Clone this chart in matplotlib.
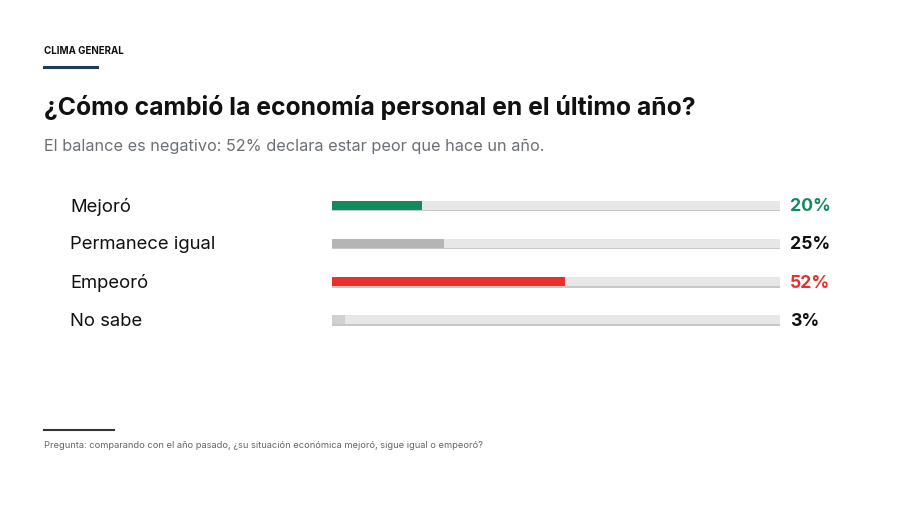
import matplotlib
matplotlib.use("Agg")
import matplotlib.pyplot as plt

plt.rcParams["font.family"] = ["Inter", "DejaVu Sans"]

# Data
categories = ["Mejoró", "Permanece igual", "Empeoró", "No sabe"]
values = [20, 25, 52, 3]
bar_colors = ["#128a5c", "#b5b5b5", "#ea2f2c", "#d0d0d0"]
value_colors = ["#128a5c", "#111111", "#ea2f2c", "#111111"]

W, H = 900, 505
fig = plt.figure(figsize=(9, 5.05), dpi=100)
fig.patch.set_facecolor("white")


def fx(px):
    return px / W


def fy(py):
    return 1 - py / H


# header
fig.text(fx(44), fy(51), "CLIMA GENERAL", fontsize=7, fontweight="bold",
         color="#111111", va="center")
fig.add_artist(plt.Line2D([fx(44), fx(97)], [fy(67), fy(67)], color="#1f3b57", lw=2.2))
fig.text(fx(44), fy(107), "¿Cómo cambió la economía personal en el último año?",
         fontsize=17.8, fontweight="bold", color="#111111", va="center")
fig.text(fx(44), fy(146), "El balance es negativo: 52% declara estar peor que hace un año.",
         fontsize=11.7, color="#6b6f76", va="center")

# bars
row_h = 38.3
top = 205 - row_h / 2
ax = fig.add_axes([fx(332), fy(top + 4 * row_h), fx(448), 4 * row_h / H])
ax.set_xlim(0, 100)
ax.set_ylim(3.5, -0.5)
ax.axis("off")

ypos = list(range(len(categories)))
bh = 9 / row_h
# shadow under track
ax.barh([y + 0.04 for y in ypos], [100] * len(ypos), height=bh, color="#c8c8c8", zorder=1)
ax.barh(ypos, [100] * len(ypos), height=bh, color="#e7e7e7", zorder=2)
ax.barh(ypos, values, height=bh, color=bar_colors, zorder=3)

tr = ax.get_yaxis_transform()
for y, cat, v, c in zip(ypos, categories, values, value_colors):
    ax.text(-0.585, y + 0.04, cat, transform=tr, fontsize=13.3, color="#111111",
            va="center", ha="left")
    ax.text(1.022, y + 0.04, f"{v}%", transform=tr, fontsize=12.7, fontweight="bold",
            color=c, va="center", ha="left")

# footer
fig.add_artist(plt.Line2D([fx(44), fx(114)], [fy(430), fy(430)], color="#333333", lw=1.5))
fig.text(fx(44), fy(445),
         "Pregunta: comparando con el año pasado, ¿su situación económica mejoró, sigue igual o empeoró?",
         fontsize=6.7, color="#666666", va="center")

fig.savefig("out.png", dpi=100, facecolor="white")
